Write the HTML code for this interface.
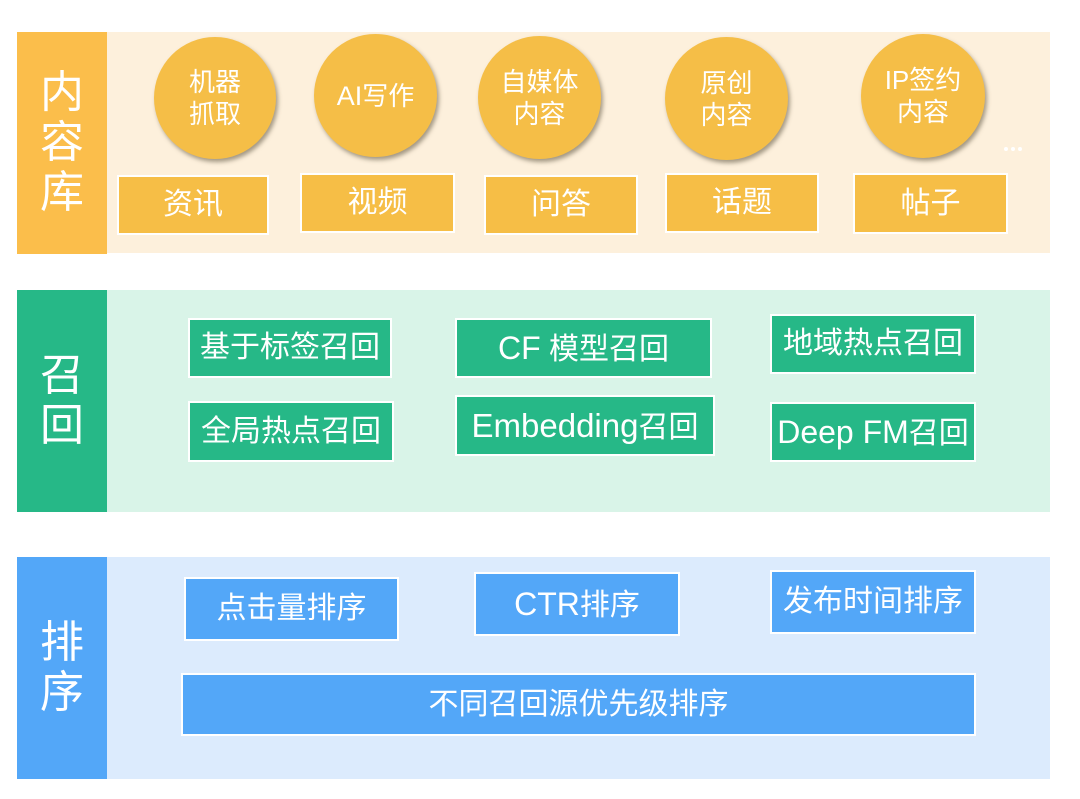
<!DOCTYPE html>
<html><head><meta charset="utf-8">
<style>
html,body{margin:0;padding:0;background:#fff;}
body{width:1080px;height:799px;position:relative;overflow:hidden;font-family:"Liberation Sans","Noto Sans CJK SC",sans-serif;}
.a{position:absolute;box-sizing:border-box;}
.lab{color:#fff;font-size:44px;line-height:50px;display:flex;align-items:center;justify-content:center;text-align:center;}
.box{color:#fff;font-size:30px;display:flex;align-items:center;justify-content:center;border:2px solid #fff;white-space:nowrap;line-height:1;}
.lt{font-size:32px;}
.cir{border-radius:50%;background:#F5BE47;color:#fff;font-size:26px;line-height:32px;display:flex;align-items:center;justify-content:center;text-align:center;box-shadow:2px 3px 4px rgba(90,80,60,0.55);}
.o{background:#F6BE46;}
.g{background:#26B887;}
.b{background:#53A7F8;}
.dot{position:absolute;width:4px;height:4px;border-radius:50%;background:#fff;}
</style></head><body>

<!-- Section 1 -->
<div class="a" style="left:107px;top:32px;width:943px;height:221px;background:#FDF0DC;"></div>
<div class="a lab" style="left:17px;top:32px;width:90px;height:222px;background:#FBBE4B;">内<br>容<br>库</div>

<div class="a cir" style="left:154px;top:37px;width:122px;height:122px;">机器<br>抓取</div>
<div class="a cir" style="left:314px;top:34px;width:123px;height:123px;"><span><span style="font-size:27px">AI</span>写作</span></div>
<div class="a cir" style="left:478px;top:36px;width:123px;height:123px;">自媒体<br>内容</div>
<div class="a cir" style="left:665px;top:37px;width:123px;height:123px;">原创<br>内容</div>
<div class="a cir" style="left:861px;top:34px;width:124px;height:124px;">IP签约<br>内容</div>
<div class="dot" style="left:1004px;top:147px;"></div>
<div class="dot" style="left:1011px;top:147px;"></div>
<div class="dot" style="left:1018px;top:147px;"></div>

<div class="a box o" style="left:117px;top:175px;width:152px;height:60px;">资讯</div>
<div class="a box o" style="left:300px;top:173px;width:155px;height:60px;">视频</div>
<div class="a box o" style="left:484px;top:175px;width:154px;height:60px;">问答</div>
<div class="a box o" style="left:665px;top:173px;width:154px;height:60px;">话题</div>
<div class="a box o" style="left:853px;top:173px;width:155px;height:61px;">帖子</div>

<!-- Section 2 -->
<div class="a" style="left:107px;top:290px;width:943px;height:222px;background:#D9F4E8;"></div>
<div class="a lab" style="left:17px;top:290px;width:90px;height:222px;background:#26B887;">召<br>回</div>

<div class="a box g" style="left:188px;top:318px;width:204px;height:60px;">基于标签召回</div>
<div class="a box g" style="left:188px;top:401px;width:206px;height:61px;">全局热点召回</div>
<div class="a box g" style="left:455px;top:318px;width:257px;height:60px;"><span><span class="lt">CF</span> 模型召回</span></div>
<div class="a box g" style="left:455px;top:395px;width:260px;height:61px;"><span><span class="lt" style="font-size:33px">Embedding</span>召回</span></div>
<div class="a box g" style="left:770px;top:314px;width:206px;height:60px;">地域热点召回</div>
<div class="a box g" style="left:770px;top:402px;width:206px;height:60px;"><span><span class="lt">Deep FM</span>召回</span></div>

<!-- Section 3 -->
<div class="a" style="left:107px;top:557px;width:943px;height:222px;background:#DCEBFD;"></div>
<div class="a lab" style="left:17px;top:557px;width:90px;height:222px;background:#53A7F8;">排<br>序</div>

<div class="a box b" style="left:184px;top:577px;width:215px;height:64px;">点击量排序</div>
<div class="a box b" style="left:474px;top:572px;width:206px;height:64px;"><span><span class="lt">CTR</span>排序</span></div>
<div class="a box b" style="left:770px;top:570px;width:206px;height:64px;">发布时间排序</div>
<div class="a box b" style="left:181px;top:673px;width:795px;height:63px;">不同召回源优先级排序</div>

</body></html>
